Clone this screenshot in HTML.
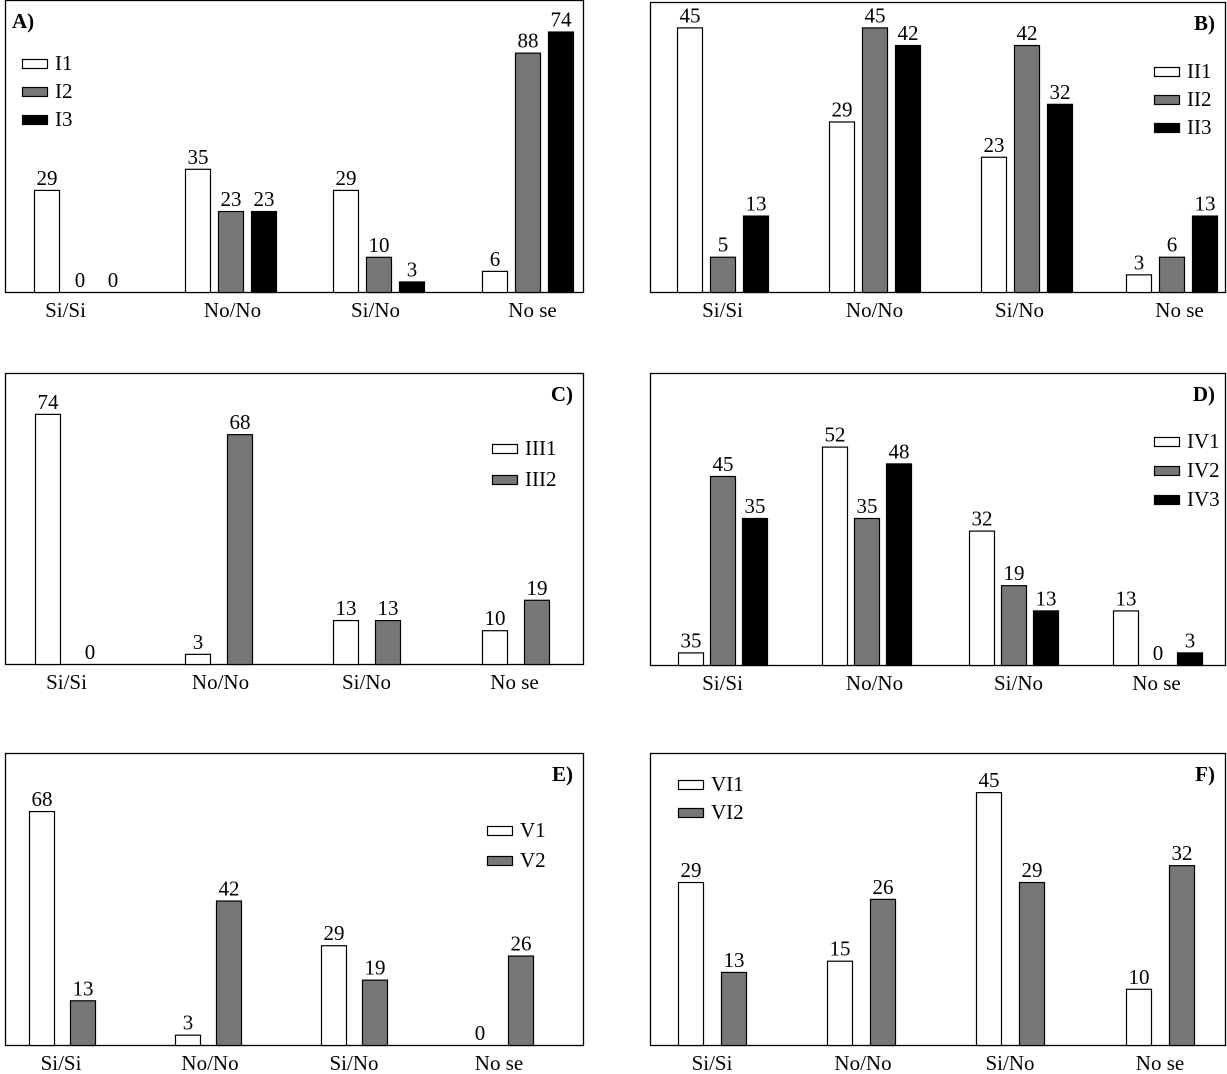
<!DOCTYPE html>
<html><head><meta charset="utf-8"><style>
html,body{margin:0;padding:0;background:#fff;}
svg{display:block;font-family:"Liberation Serif",serif;}
</style></head><body>
<svg id="chart" width="1227" height="1074" viewBox="0 0 1227 1074"></svg>
<script>
const categories = ["Si/Si","No/No","Si/No","No se"];
// Panel A
const aSeriesNames = ["I1","I2","I3"];
const aValues = [[29,35,29,6],[0,23,10,68],[0,23,3,74]];
const aLabels = [["29","35","29","6"],["0","23","10","88"],["0","23","3","74"]];
// Panel B
const bSeriesNames = ["II1","II2","II3"];
const bValues = [[45,29,23,3],[6,45,42,6],[13,42,32,13]];
const bLabels = [["45","29","23","3"],["5","45","42","6"],["13","42","32","13"]];
// Panel C
const cSeriesNames = ["III1","III2"];
const cValues = [[74,3,13,10],[0,68,13,19]];
const cLabels = [["74","3","13","10"],["0","68","13","19"]];
// Panel D
const dSeriesNames = ["IV1","IV2","IV3"];
const dValues = [[3,52,32,13],[45,35,19,0],[35,48,13,3]];
const dLabels = [["35","52","32","13"],["45","35","19","0"],["35","48","13","3"]];
// Panel E
const eSeriesNames = ["V1","V2"];
const eValues = [[68,3,29,0],[13,42,19,26]];
const eLabels = [["68","3","29","0"],["13","42","19","26"]];
// Panel F
const fSeriesNames = ["VI1","VI2"];
const fValues = [[29,15,45,10],[13,26,29,32]];
const fLabels = [["29","15","45","10"],["13","26","29","32"]];

const fills = ["#fff","#777","#000"];
const NS = "http://www.w3.org/2000/svg";
const svg = document.getElementById("chart");
function mk(tag, attrs, parent){
  const e = document.createElementNS(NS, tag);
  for (const k in attrs) e.setAttribute(k, attrs[k]);
  (parent||svg).appendChild(e);
  return e;
}
function panel(cfg){
  const g = mk("g", {});
  
  
  const fr = mk("rect", {x:cfg.x0+0.5, y:cfg.y0+0.5, width:cfg.x1-cfg.x0, height:cfg.base-cfg.y0, fill:"none", stroke:"#000", "stroke-width":1.3}, g);
  
  
  const yScale = v => cfg.base - v * cfg.scale;
  const xBar = (ci, si) => cfg.groups[ci] + si * cfg.step;
  const bw = 25;
  cfg.values.forEach((ser, si) => {
    ser.forEach((v, ci) => {
      const x = xBar(ci, si);
      const y = yScale(v);
      if (v > 0) {
        const r = mk("rect", {x:x+0.5, y:y+0.5, width:bw, height:cfg.base-y, fill:fills[si], stroke:"#000", "stroke-width":1.2}, g);
        
        
      }
      const t = mk("text", {x:x+bw/2+0.5, y:y-5, "text-anchor":"middle", "font-size":21}, g);
      t.textContent = cfg.labels[si][ci];
      
      
    });
  });
  const n = cfg.values.length;
  categories.forEach((c, ci) => {
    const cx = cfg.groups[ci] + ((n-1)*cfg.step + bw)/2 + cfg.labShift[ci];
    const t = mk("text", {x:cx, y:cfg.base+25, "text-anchor":"middle", "font-size":21}, g);
    t.textContent = c;
    
    
  });
  cfg.names.forEach((nm, si) => {
    const y = cfg.legY + si * cfg.legStep;
    const r = mk("rect", {x:cfg.legX+0.5, y:y+0.5, width:25, height:9, fill:fills[si], stroke:"#000", "stroke-width":1.2}, g);
    
    
    const t = mk("text", {x:cfg.legX+33, y:y+11, "font-size":21}, g);
    t.textContent = nm;
    
    
  });
  const lt = mk("text", {x:cfg.letterLeft ? cfg.x0+7 : cfg.x1-10, y:cfg.y0+28, "text-anchor":cfg.letterLeft?"start":"end", "font-size":21, "font-weight":"bold"}, g);
  lt.textContent = cfg.letter + ")";
  
  
}
panel({letter:"A", letterLeft:true, x0:5, x1:583, y0:0, base:292, scale:3.52, values:aValues, labels:aLabels, names:aSeriesNames, groups:[34,185,333,482], step:33, legX:22, legY:59, legStep:28, labShift:[-14,2,-3,5]});
panel({letter:"B", x0:650, x1:1225, y0:2, base:292, scale:5.88, values:bValues, labels:bLabels, names:bSeriesNames, groups:[677,829,981,1126], step:33, legX:1154, legY:67, legStep:28, labShift:[0,0,-7,8]});
panel({letter:"C", x0:5, x1:583, y0:373, base:664, scale:3.38, values:cValues, labels:cLabels, names:cSeriesNames, groups:[35,185,333,482], step:42, legX:492, legY:444, legStep:31, labShift:[-2,2,0,-1]});
panel({letter:"D", x0:650, x1:1225, y0:373, base:665, scale:4.2, values:dValues, labels:dLabels, names:dSeriesNames, groups:[678,822,969,1113], step:32, legX:1154, legY:437, legStep:29, labShift:[0,8,5,-1]});
panel({letter:"E", x0:5, x1:583, y0:753, base:1045, scale:3.44, values:eValues, labels:eLabels, names:eSeriesNames, groups:[29,175,321,467], step:41, legX:487, legY:826, legStep:30, labShift:[-1,2,0,-1]});
panel({letter:"F", x0:650, x1:1225, y0:753, base:1045, scale:5.62, values:fValues, labels:fLabels, names:fSeriesNames, groups:[678,827,976,1126], step:43, legX:678, legY:780, legStep:28, labShift:[0,2,0,0]});
</script>
</body></html>
